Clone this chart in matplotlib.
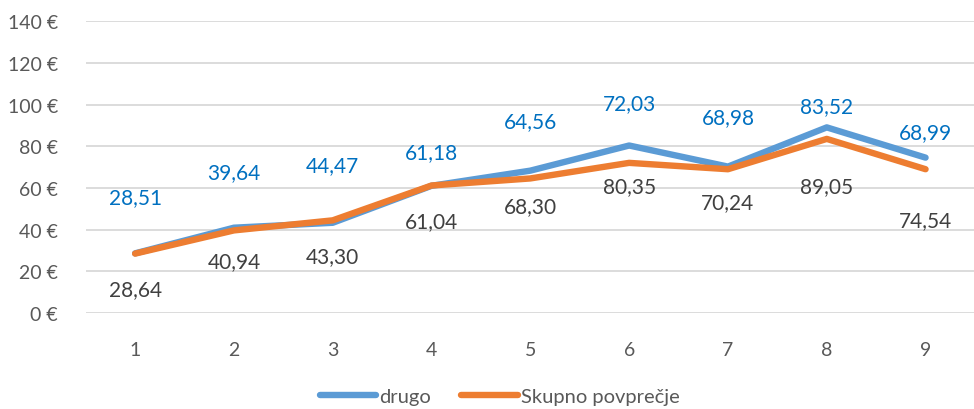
import matplotlib.pyplot as plt
from matplotlib.ticker import MultipleLocator, FuncFormatter

plt.rcParams['font.family'] = ['Lato', 'DejaVu Sans']

# podatki
kategorije = [1, 2, 3, 4, 5, 6, 7, 8, 9]
drugo = [28.64, 40.94, 43.30, 61.04, 68.30, 80.35, 70.24, 89.05, 74.54]
skupno = [28.51, 39.64, 44.47, 61.18, 64.56, 72.03, 68.98, 83.52, 68.99]

# odmiki oznak (pixli) glede na tocko
odmik_zgoraj = [57, 58, 55, 33, 57, 60, 52, 33, 37]
odmik_spodaj = [36, 33, 33, 35, 35, 41, 35, 59, 62]

fig = plt.figure(figsize=(9.74, 4.10), dpi=100)
ax = fig.add_axes([0.088, 0.234, 0.913, 0.712])

ax.plot(kategorije, drugo, color='#5B9BD5', lw=4.6, solid_capstyle='round',
        solid_joinstyle='round', label='drugo', zorder=3)
ax.plot(kategorije, skupno, color='#ED7D31', lw=4.6, solid_capstyle='round',
        solid_joinstyle='round', label='Skupno povprečje', zorder=4)

def fmt(v):
    return ('%.2f' % v).replace('.', ',')

for x, v, d in zip(kategorije, skupno, odmik_zgoraj):
    ax.annotate(fmt(v), (x, v), xytext=(0, d), textcoords='offset pixels',
                ha='center', va='center', fontsize=15, color='#0070C0')
for x, v, d in zip(kategorije, drugo, odmik_spodaj):
    ax.annotate(fmt(v), (x, v), xytext=(0, -d), textcoords='offset pixels',
                ha='center', va='center', fontsize=15, color='#404040')

ax.set_xlim(0.5, 9.5)
ax.set_ylim(0, 140)
ax.set_xticks(kategorije)
ax.yaxis.set_major_locator(MultipleLocator(20))
ax.yaxis.set_major_formatter(FuncFormatter(lambda v, p: '%d €' % v))
ax.grid(axis='y', color='#D9D9D9', lw=1.3)
ax.set_axisbelow(True)
for s in ax.spines.values():
    s.set_visible(False)
ax.tick_params(length=0, labelsize=14, colors='#595959')
ax.tick_params(axis='x', pad=20)
ax.tick_params(axis='y', pad=20)

leg = fig.legend(loc='center', bbox_to_anchor=(0.513, 0.03), ncol=2, frameon=False,
                 fontsize=14.5, handlelength=2.8, handletextpad=0.15, columnspacing=1.5)
for t in leg.get_texts():
    t.set_color('#595959')

fig.savefig('out.png', dpi=100)
